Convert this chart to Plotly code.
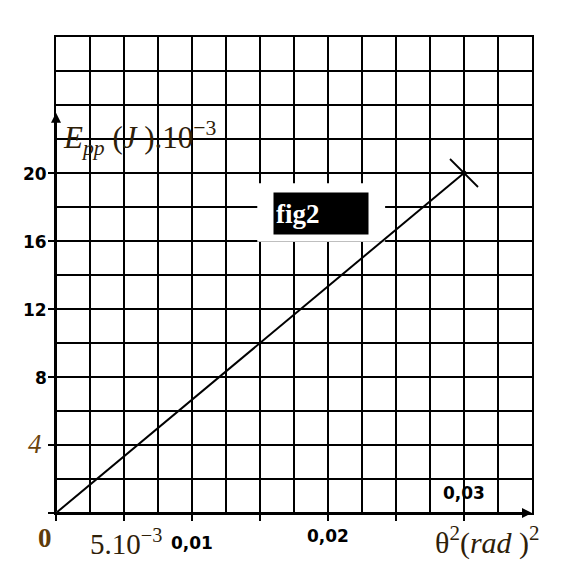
import plotly.graph_objects as go

# data
theta2 = [0.0, 0.03]          # θ² (rad²)
epp = [0.0, 20.0]             # E_pp (J) x 1e-3
y_tick_vals = [20, 16, 12, 8]
y_tick_text = ["20", "16", "12", "8"]
x_tick_vals = [0.01, 0.02]
x_tick_text = ["0,01", "0,02"]

X_MAX = 0.035
Y_MAX = 28

fig = go.Figure()
fig.add_trace(go.Scatter(x=theta2, y=epp, mode="lines",
                         line=dict(color="black", width=2),
                         showlegend=False, hoverinfo="skip"))
# end symbol (support-like mark)
fig.add_trace(go.Scatter(x=[theta2[-1]], y=[epp[-1]], mode="markers",
                         marker=dict(symbol="line-nw", size=28,
                                     line=dict(color="black", width=1.8)),
                         showlegend=False, hoverinfo="skip"))
fig.add_trace(go.Scatter(x=[theta2[-1]], y=[epp[-1]], mode="markers",
                         marker=dict(symbol="circle", size=5, color="black"),
                         showlegend=False, hoverinfo="skip"))

axis_common = dict(showline=True, mirror=True, linecolor="black", linewidth=1.8,
                   showgrid=True, gridcolor="black", gridwidth=1.7,
                   zeroline=False, showticklabels=False,
                   ticks="outside", ticklen=6, tickcolor="black", tickwidth=1.6)

fig.update_xaxes(range=[0, X_MAX], tickmode="array",
                 tickvals=[0, 0.005, 0.01, 0.015, 0.02, 0.025, 0.03],
                 minor=dict(tickmode="linear", tick0=0, dtick=0.0025, showgrid=True,
                            gridcolor="black", gridwidth=1.7, ticks=""),
                 **axis_common)
fig.update_yaxes(range=[0, Y_MAX], tickmode="array",
                 tickvals=[0, 4, 8, 12, 16, 20],
                 minor=dict(tickmode="linear", tick0=0, dtick=2, showgrid=True,
                            gridcolor="black", gridwidth=1.7, ticks=""),
                 **axis_common)

serif = "Liberation Serif"
txtc = "#2e2008"
bold_font = dict(family="DejaVu Sans", size=17, color="black", weight="bold")
ann = []
for v, t in zip(y_tick_vals, y_tick_text):
    ann.append(dict(x=0, y=v, xref="x", yref="y", text=t, showarrow=False,
                    xanchor="right", xshift=-7, yshift=-1, font=bold_font))
ann.append(dict(x=0, y=4, xref="x", yref="y", text="<i>4</i>", showarrow=False,
                xanchor="right", xshift=-12, yshift=1,
                font=dict(family=serif, size=27, color="#6a430c")))
ann.append(dict(x=0, y=0, xref="x", yref="y", text="0", showarrow=False,
                xanchor="right", yanchor="top", xshift=-2, yshift=-8,
                font=dict(family=serif, size=27, color="#5e3c0a", weight="bold")))
ann.append(dict(x=0.005, y=0, xref="x", yref="y", text="5.10<sup>−3</sup>", showarrow=False,
                xanchor="center", yanchor="top", xshift=2, yshift=-9,
                font=dict(family=serif, size=29, color=txtc)))
ann.append(dict(x=x_tick_vals[0], y=0, xref="x", yref="y", text=x_tick_text[0], showarrow=False,
                xanchor="center", yanchor="top", xshift=0, yshift=-18, font=bold_font))
ann.append(dict(x=x_tick_vals[1], y=0, xref="x", yref="y", text=x_tick_text[1], showarrow=False,
                xanchor="center", yanchor="top", xshift=0, yshift=-11, font=bold_font))
ann.append(dict(x=0.03, y=0, xref="x", yref="y", text="0,03", showarrow=False,
                xanchor="center", yanchor="bottom", yshift=8, font=bold_font))
ann.append(dict(x=X_MAX, y=0, xref="x", yref="y",
                text="θ<sup>2</sup>(<i>rad</i> )<sup>2</sup>", showarrow=False,
                xanchor="right", yanchor="top", xshift=10, yshift=-6,
                font=dict(family=serif, size=30, color=txtc)))
ann.append(dict(x=0, y=22, xref="x", yref="y",
                text="<i>E</i><sub><i>pp</i></sub> (<i>J</i> ).10<sup>−3</sup>", showarrow=False,
                xanchor="left", yanchor="middle", xshift=5, yshift=1,
                font=dict(family=serif, size=31, color=txtc)))
# axis arrows
ann.append(dict(x=0, y=23.55, ax=0, ay=0, xref="x", yref="y", axref="x", ayref="y",
                text="", showarrow=True, arrowhead=2, arrowsize=1, arrowwidth=2,
                arrowcolor="black"))
ann.append(dict(x=X_MAX, y=0, ax=0, ay=0, xref="x", yref="y", axref="x", ayref="y",
                text="", showarrow=True, arrowhead=2, arrowsize=1, arrowwidth=2,
                arrowcolor="black"))
# fig2 label
ann.append(dict(x=0.01949, y=17.64, xref="x", yref="y", text="<b>fig2</b>", showarrow=False,
                xanchor="center", yanchor="middle", width=90, height=37, align="left",
                bgcolor="black", borderpad=2,
                font=dict(family=serif, size=27, color="white")))

shapes = [dict(type="rect", xref="x", yref="y", layer="between",
               x0=0.0148, x1=0.0242, y0=15.95, y1=19.4,
               fillcolor="white", line=dict(width=0))]

fig.update_layout(width=559, height=574,
                  margin=dict(l=48, r=35, t=29, b=69),
                  paper_bgcolor="white", plot_bgcolor="white",
                  annotations=ann, shapes=shapes, showlegend=False)

fig.write_html("out.html")
